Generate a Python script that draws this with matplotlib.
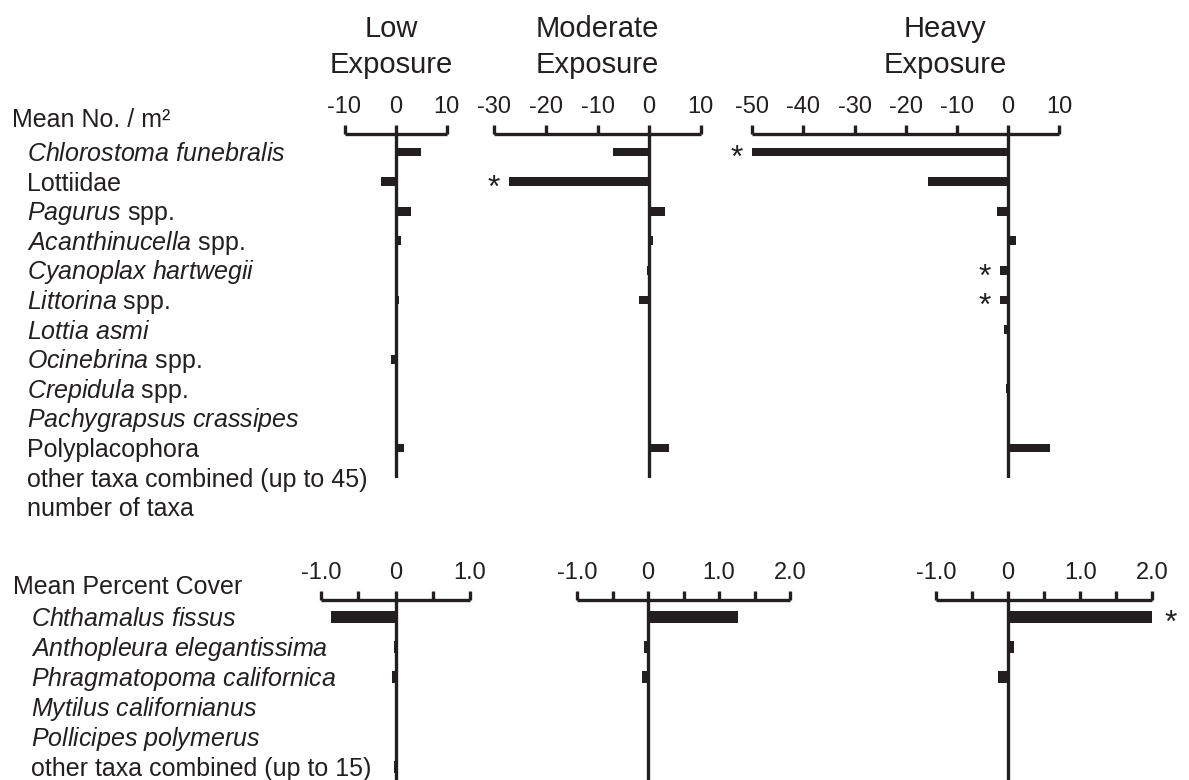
import matplotlib
matplotlib.use("Agg")
import matplotlib.pyplot as plt

# ---- data -------------------------------------------------------------
top_taxa = ["Chlorostoma funebralis", "Lottiidae", "Pagurus spp.", "Acanthinucella spp.",
            "Cyanoplax hartwegii", "Littorina spp.", "Lottia asmi", "Ocinebrina spp.",
            "Crepidula spp.", "Pachygrapsus crassipes", "Polyplacophora",
            "other taxa combined (up to 45)", "number of taxa"]
top_italic_words = [2, 0, 1, 1, 2, 1, 2, 1, 1, 2, 0, 0, 0]

# change in mean number per m2
count_low = [5.0, -2.8, 3.1, 1.1, 0.0, 0.6, 0.0, -0.8, 0.0, 0.0, 1.7, 0.0, 0.0]
count_moderate = [-6.9, -27.1, 3.1, 0.8, -0.4, -1.9, -0.3, 0.0, 0.2, -0.3, 3.9, 0.0, 0.0]
count_heavy = [-50.0, -15.6, -2.2, 1.5, -1.6, -1.6, -0.8, 0.0, -0.4, 0.0, 8.2, 0.0, 0.0]
count_sig_low = []
count_sig_moderate = [1]
count_sig_heavy = [0, 4, 5]

bottom_taxa = ["Chthamalus fissus", "Anthopleura elegantissima", "Phragmatopoma californica",
               "Mytilus californianus", "Pollicipes polymerus", "other taxa combined (up to 15)"]
bottom_italic_words = [2, 2, 2, 2, 2, 0]

# change in mean percent cover
cover_low = [-0.87, -0.02, -0.05, 0.04, 0.0, -0.02]
cover_moderate = [1.27, -0.06, -0.08, 0.02, 0.0, -0.02]
cover_heavy = [2.05, 0.08, -0.14, 0.02, 0.0, 0.0]
cover_sig_low = []
cover_sig_moderate = []
cover_sig_heavy = [0]

exposure_titles = [("Low", "Exposure"), ("Moderate", "Exposure"), ("Heavy", "Exposure")]
count_ticks = [[-10, 0, 10], [-30, -20, -10, 0, 10], [-50, -40, -30, -20, -10, 0, 10]]
cover_ticks = [[-1.0, -0.5, 0, 0.5, 1.0], [-1.0, -0.5, 0, 0.5, 1.0, 1.5, 2.0],
               [-1.0, -0.5, 0, 0.5, 1.0, 1.5, 2.0]]
cover_ticklabels = [["-1.0", "", "0", "", "1.0"],
                    ["-1.0", "", "0", "", "1.0", "", "2.0"],
                    ["-1.0", "", "0", "", "1.0", "", "2.0"]]

# ---- style ------------------------------------------------------------
INK = "#231f20"
plt.rcParams["font.family"] = ["Liberation Sans", "DejaVu Sans"]
plt.rcParams["mathtext.fontset"] = "custom"
plt.rcParams["mathtext.rm"] = "Liberation Sans"
plt.rcParams["mathtext.it"] = "Liberation Sans:italic"
plt.rcParams["mathtext.bf"] = "Liberation Sans:bold"
plt.rcParams["text.color"] = INK

W, H = 1189, 780
fig = plt.figure(figsize=(W / 100, H / 100), dpi=100)
fig.patch.set_facecolor("white")


def fx(px):
    return px / W


def fy(py):
    return 1 - py / H


def label_text(name, n_italic):
    words = name.split(" ")
    if n_italic == 0:
        return name
    it = r"\ ".join(words[:n_italic])
    rest = " ".join(words[n_italic:])
    s = r"$\mathit{" + it + "}$"
    if rest:
        s += " " + rest
    return s


LABEL_FS = 18
TICK_FS = 17
TITLE_FS = 21
LW = 2.4


def panel(x0, x1, y0, y1, row0, pitch, xlim, ticks, ticklabels, values, sig, bar_h):
    ax = fig.add_axes([fx(x0), fy(y1), fx(x1) - fx(x0), (y1 - y0) / H])
    ax.set_xlim(*xlim)
    r_top = (y0 - row0) / pitch
    r_bot = (y1 - row0) / pitch
    ax.set_ylim(r_bot, r_top)
    ax.patch.set_alpha(0)
    for side in ("left", "right", "bottom"):
        ax.spines[side].set_visible(False)
    ax.spines["top"].set_linewidth(LW)
    ax.spines["top"].set_color(INK)
    ax.spines["top"].set_capstyle("butt")
    ax.xaxis.tick_top()
    ax.set_xticks(ticks)
    ax.set_xticklabels(ticklabels)
    ax.tick_params(axis="x", direction="out", length=6.5, width=LW, color=INK,
                   labelsize=TICK_FS, labelcolor=INK, pad=5)
    ax.set_yticks([])
    ax.axvline(0, color=INK, lw=LW, zorder=3)
    rows = list(range(len(values)))
    ax.barh(rows, values, height=bar_h, color=INK, linewidth=0, zorder=2)
    for i in sig:
        v = values[i]
        dx = -11 if v < 0 else 11
        ax.annotate("*", xy=(v, i), xytext=(dx, -11), textcoords="offset points",
                    ha="center", va="baseline", fontsize=23, color=INK,
                    annotation_clip=False)
    return ax


# top: mean number per m2
TOP_ROW0, TOP_PITCH = 152, 29.6
top_specs = [
    (344.5, 446.5, (-10, 10), count_low, count_sig_low),
    (494.3, 700.7, (-30, 10), count_moderate, count_sig_moderate),
    (752.3, 1059.3, (-50, 10), count_heavy, count_sig_heavy),
]
for k, (x0, x1, xl, vals, sig) in enumerate(top_specs):
    panel(x0, x1, 134, 478, TOP_ROW0, TOP_PITCH, xl, count_ticks[k],
          [str(t) for t in count_ticks[k]], vals, sig, 0.3)

# bottom: mean percent cover
BOT_ROW0, BOT_PITCH = 617, 30
bottom_specs = [
    (321, 470, (-1, 1), cover_low, cover_sig_low),
    (577, 790, (-1, 2), cover_moderate, cover_sig_moderate),
    (936, 1152.3, (-1, 2), cover_heavy, cover_sig_heavy),
]
for k, (x0, x1, xl, vals, sig) in enumerate(bottom_specs):
    panel(x0, x1, 600, 780, BOT_ROW0, BOT_PITCH, xl, cover_ticks[k],
          cover_ticklabels[k], vals, sig, 0.4)

# column headings
for (l1, l2), xc in zip(exposure_titles, [391, 597, 945]):
    fig.text(fx(xc), fy(37), l1, ha="center", va="baseline", fontsize=TITLE_FS)
    fig.text(fx(xc), fy(73), l2, ha="center", va="baseline", fontsize=TITLE_FS)

# row labels
fig.text(fx(12), fy(127), "Mean No. / m²", ha="left", va="baseline", fontsize=LABEL_FS)
for i, (name, n_it) in enumerate(zip(top_taxa, top_italic_words)):
    fig.text(fx(27), fy(TOP_ROW0 + TOP_PITCH * i + 9), label_text(name, n_it),
             ha="left", va="baseline", fontsize=LABEL_FS)

fig.text(fx(13), fy(594), "Mean Percent Cover", ha="left", va="baseline", fontsize=LABEL_FS)
for i, (name, n_it) in enumerate(zip(bottom_taxa, bottom_italic_words)):
    fig.text(fx(31), fy(BOT_ROW0 + BOT_PITCH * i + 9), label_text(name, n_it),
             ha="left", va="baseline", fontsize=LABEL_FS)

fig.savefig("out.png", dpi=100, facecolor="white")
